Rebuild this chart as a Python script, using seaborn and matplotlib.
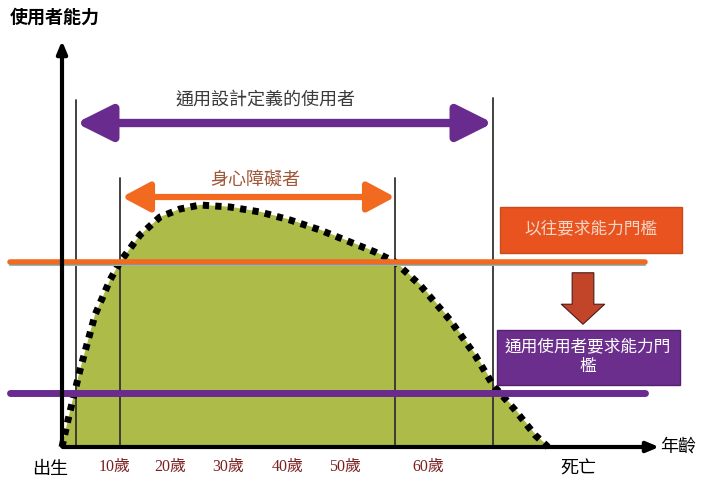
import numpy as np
import pandas as pd
import seaborn as sns
import matplotlib.pyplot as plt
from matplotlib.patches import FancyBboxPatch

sns.set_theme(style='white')
plt.rcParams['font.family'] = ['Noto Sans CJK TC', 'DejaVu Sans']

# ability curve (x = life position, y = ability), schematic units
curve_x = [0, 6, 18, 33, 48, 58, 78, 98, 118, 138, 168, 198, 228, 258, 288,
           313, 333, 358, 388, 413, 431, 453, 473, 486]
curve_y = [0, 27, 77, 132, 167, 185, 212, 230, 238, 242, 240, 235, 227, 217, 205,
           195, 185, 162, 127, 92, 62, 37, 12, 0]

tick_pos = [-12, 53, 108, 166, 226, 283, 366, 516]
tick_labels = ['出生', '10歲', '20歲', '30歲', '40歲', '50歲', '60歲', '死亡']

old_level = 185      # 以往要求能力門檻
new_level = 54       # 通用使用者要求能力門檻
span_all = (14, 431)       # 通用設計定義的使用者
span_disabled = (58, 333)  # 身心障礙者

df = pd.DataFrame({'x': curve_x, 'y': curve_y})

fig = plt.figure(figsize=(7.04, 4.84), dpi=100)
ax = fig.add_axes([0, 0, 1, 1])
ax.set_xlim(-62, 642)
ax.set_ylim(-37, 447)
ax.axis('off')

ax.fill_between(df['x'], df['y'], color='#adbb48', zorder=1)
sns.lineplot(data=df, x='x', y='y', color='black', lw=5,
             linestyle=(0, (0.9, 0.9)), ax=ax, zorder=4)

# vertical guide lines
for xv, top in [(span_all[0], 347), (span_disabled[0], 269),
                (span_disabled[1], 269), (span_all[1], 349)]:
    ax.plot([xv, xv], [0, top], color='#333333', lw=1.3, zorder=3)

# threshold lines
ax.plot([-52, 583], [old_level - 3, old_level - 3], color='#6fc3d6', lw=1.5, zorder=5)
ax.plot([-52, 583], [old_level, old_level], color='#f26a1f', lw=4, zorder=5)
ax.plot([-52, 583], [new_level, new_level], color='#6a2b8f', lw=5, zorder=5)

# axes arrows
ax.annotate('', xy=(0, 409), xytext=(0, -2),
            arrowprops=dict(arrowstyle='-|>,head_length=0.6,head_width=0.25',
                            color='black', lw=3), zorder=6)
ax.annotate('', xy=(600, 0), xytext=(-2, 0),
            arrowprops=dict(arrowstyle='-|>,head_length=0.6,head_width=0.25',
                            color='black', lw=3), zorder=6)
ax.text(-7, 430, '使用者能力', fontsize=13, ha='center', va='center',
        color='black', fontweight='bold')
ax.text(616, 0, '年齡', fontsize=13, ha='center', va='center', color='black')

# span arrows
ax.annotate('', xy=(span_all[1], 324), xytext=(span_all[0], 324),
            arrowprops=dict(arrowstyle='<|-|>,head_length=1.8,head_width=0.9',
                            color='#6a2b8f', lw=6, shrinkA=0, shrinkB=0))
ax.text(203, 347, '通用設計定義的使用者', fontsize=13, ha='center', va='center',
        color='#3a3a3a')
ax.annotate('', xy=(span_disabled[1], 250), xytext=(span_disabled[0] + 2, 250),
            arrowprops=dict(arrowstyle='<|-|>,head_length=1.4,head_width=0.75',
                            color='#f26a1f', lw=4.5, shrinkA=0, shrinkB=0))
ax.text(193, 267, '身心障礙者', fontsize=13, ha='center', va='center',
        color='#a0583a')

# tick labels
for xp, lab in zip(tick_pos, tick_labels):
    if lab in ('出生', '死亡'):
        ax.text(xp, -22, lab, fontsize=13, ha='center', va='center', color='black')
    else:
        ax.text(xp, -20, lab, fontsize=11.5, ha='center', va='center', color='#7a2020',
                family=['Liberation Serif', 'Noto Sans CJK TC'])

# threshold boxes
ax.add_patch(FancyBboxPatch((438, 194), 182, 46, boxstyle='square,pad=0',
                            facecolor='#e8531f', edgecolor='#c94a1c', lw=1, zorder=6))
ax.text(529, 217, '以往要求能力門檻', fontsize=12, ha='center', va='center',
        color='#f6d6c6', zorder=7)
ax.annotate('', xy=(521, 120), xytext=(521, 177),
            arrowprops=dict(arrowstyle='simple,head_length=1.2,head_width=2.6,tail_width=1.3',
                            facecolor='#c2452a', edgecolor='#4a1a1a', lw=0.8), zorder=6)
ax.add_patch(FancyBboxPatch((435, 62), 183, 55, boxstyle='square,pad=0',
                            facecolor='#6b2e8c', edgecolor='#56226f', lw=1, zorder=6))
ax.text(526, 90, '通用使用者要求能力門\n檻', fontsize=12, ha='center', va='center',
        color='white', linespacing=1.2, zorder=7)

plt.savefig('out.png', dpi=100)
